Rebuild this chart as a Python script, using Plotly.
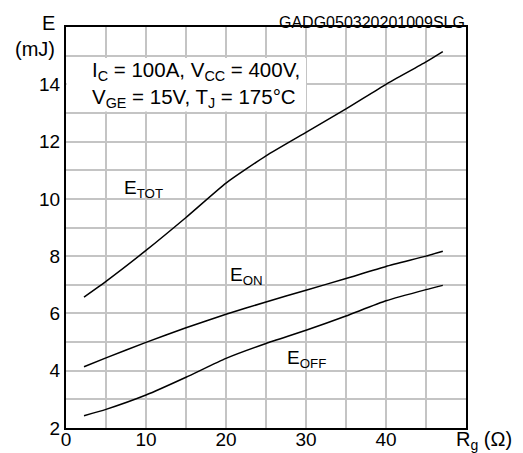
import plotly.graph_objects as go

rg = [2.25, 5, 10, 15, 20, 25, 30, 35, 40, 45, 47.1]
e_tot = [6.57, 7.12, 8.2, 9.35, 10.55, 11.5, 12.32, 13.14, 14.0, 14.78, 15.14]
e_on = [4.14, 4.45, 4.99, 5.5, 5.97, 6.4, 6.81, 7.22, 7.64, 8.0, 8.17]
e_off = [2.43, 2.65, 3.15, 3.77, 4.43, 4.95, 5.41, 5.91, 6.44, 6.83, 6.98]

x_ticks = [0, 10, 20, 30, 40]
y_ticks = [2, 4, 6, 8, 10, 12, 14]

FONT = "Liberation Sans, Arial, sans-serif"
GRID = "#c4c4c4"

fig = go.Figure()
for ys in (e_tot, e_on, e_off):
    fig.add_trace(go.Scatter(x=rg, y=ys, mode="lines",
                             line=dict(color="black", width=1.5, shape="spline", smoothing=0.5),
                             showlegend=False, hoverinfo="skip"))

# page body has an 8px margin; compensate so plot area sits at 66..466 x 27..428
fig.update_layout(
    width=515, height=445,
    margin=dict(l=58, r=57, t=19, b=25, pad=0),
    paper_bgcolor="white", plot_bgcolor="white",
    font=dict(family=FONT, color="black", size=19),
    xaxis=dict(range=[0, 50], tickvals=x_ticks, ticks="", showgrid=True, gridcolor=GRID, gridwidth=1.5,
               minor=dict(dtick=5, tick0=0, showgrid=True, gridcolor=GRID, gridwidth=1.5),
               showline=True, linecolor="black", linewidth=2, mirror=True, zeroline=False,
               automargin=False, ticklabelstandoff=-7, tickfont=dict(size=19)),
    yaxis=dict(range=[2, 16], tickvals=y_ticks, ticks="", showgrid=True, gridcolor=GRID, gridwidth=1.5,
               minor=dict(dtick=1, tick0=0, showgrid=True, gridcolor=GRID, gridwidth=1.5),
               showline=True, linecolor="black", linewidth=2, mirror=True, zeroline=False,
               automargin=False, tickfont=dict(size=19)),
)

# white box behind condition text
fig.add_shape(type="rect", xref="x", yref="y", x0=0.1, x1=30, y0=13.05, y1=14.92,
              fillcolor="white", line=dict(width=0), layer="between")

fig.add_annotation(xref="paper", yref="paper", x=0, y=1, xanchor="left", yanchor="middle",
                   xshift=24, yshift=-57,
                   text="I<sub>C</sub> = 100A, V<sub>CC</sub> = 400V,<br>V<sub>GE</sub> = 15V, T<sub>J</sub> = 175°C",
                   showarrow=False, align="left", font=dict(size=20.5))

fig.add_annotation(x=9.7, y=10.35, xref="x", yref="y", text="E<sub>TOT</sub>", showarrow=False, font=dict(size=19))
fig.add_annotation(x=22.6, y=7.3, xref="x", yref="y", text="E<sub>ON</sub>", showarrow=False, font=dict(size=19))
fig.add_annotation(x=30.1, y=4.42, xref="x", yref="y", text="E<sub>OFF</sub>", showarrow=False, font=dict(size=19))

fig.add_annotation(xref="paper", yref="paper", x=1, y=1, xanchor="right", yanchor="middle", xshift=1, yshift=5,
                   text="GADG050320201009SLG", showarrow=False, font=dict(size=16))
fig.add_annotation(xref="paper", yref="paper", x=0, y=1, xanchor="center", yanchor="middle", xshift=-18, yshift=4,
                   text="E", showarrow=False, font=dict(size=20))
fig.add_annotation(xref="paper", yref="paper", x=0, y=1, xanchor="center", yanchor="middle", xshift=-31, yshift=-22,
                   text="(mJ)", showarrow=False, font=dict(size=20))
fig.add_annotation(xref="paper", yref="paper", x=1, y=0, xanchor="left", yanchor="middle", xshift=-12, yshift=-12,
                   text="R<sub>g</sub> (Ω)", showarrow=False, font=dict(size=20))

fig.write_html("out.html")
